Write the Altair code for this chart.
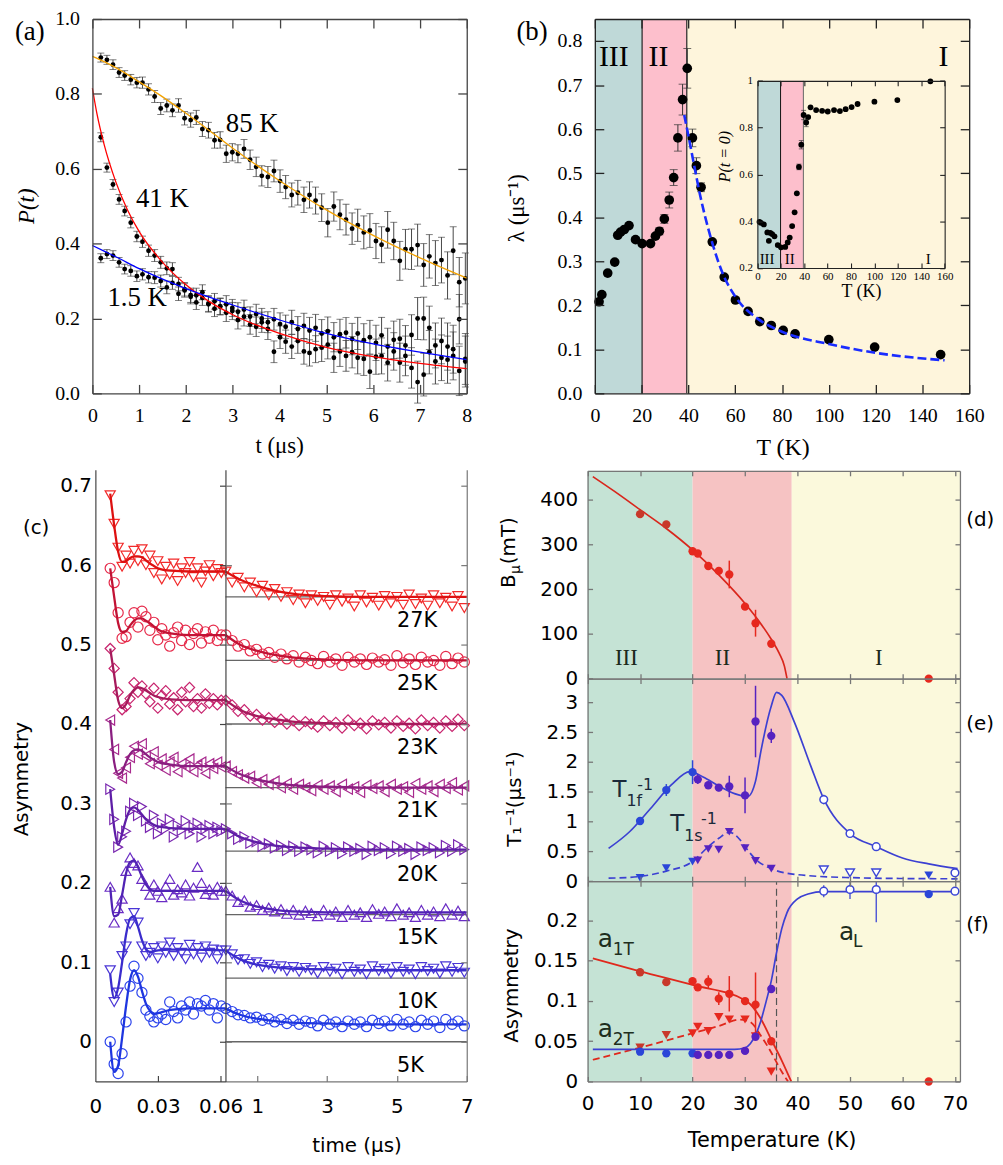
import altair as alt
import pandas as pd

W, H = 883, 1070
SERIF = "Liberation Serif"
SANS = "DejaVu Sans"

# ---------------- panel geometry (pixels inside the plotting area) ----------------
PA = dict(xd=[0, 8], yd=[0, 1.0], x0=0, x1=377, y0=0, y1=377)
PB = dict(xd=[0, 160], yd=[0, 0.85], x0=506, x1=883, y0=0, y1=377)
PI = dict(xd=[0, 160], yd=[0.2, 1.0], x0=669.7, x1=858.3, y0=62.3, y1=250.7)
PCL = dict(xd=[0, 0.0623], yd=[-0.05, 0.72], x0=3, x1=134, y0=454, y1=1070)
PCR = dict(xd=[0.09, 7], yd=[-0.05, 0.72], x0=134, x1=377, y0=454, y1=1070)
PD = dict(xd=[0, 70.95], yd=[0, 465], x0=498.7, x1=873.7, y0=455, y1=664.3)
PE = dict(xd=[0, 70.95], yd=[0, 3.4], x0=498.7, x1=873.7, y0=664.3, y1=868.3)
PF = dict(xd=[0, 70.95], yd=[0, 0.249], x0=498.7, x1=873.7, y0=868.3, y1=1070)

# ---------------- panel (a) data ----------------
A_T = [0.18, 0.31, 0.44, 0.57, 0.69, 0.82, 0.95, 1.07, 1.20, 1.33,
       1.46, 1.59, 1.71, 1.84, 1.97, 2.10, 2.22, 2.35, 2.48, 2.61,
       2.73, 2.86, 2.99, 3.11, 3.24, 3.37, 3.50, 3.62, 3.75, 3.88,
       4.01, 4.13, 4.26, 4.39, 4.52, 4.64, 4.77, 4.90, 5.03, 5.16,
       5.29, 5.42, 5.55, 5.67, 5.80, 5.93, 6.06, 6.18, 6.31, 6.44,
       6.57, 6.69, 6.82, 6.95, 7.08, 7.20, 7.33, 7.46, 7.59, 7.71,
       7.84, 7.97]
A_P85 = [0.897, 0.891, 0.878, 0.857, 0.849, 0.838, 0.830, 0.830, 0.812, 0.793,
         0.761, 0.769, 0.756, 0.769, 0.735, 0.730, 0.737, 0.706, 0.703, 0.676,
         0.677, 0.640, 0.644, 0.640, 0.653, 0.624, 0.605, 0.581, 0.578, 0.594,
         0.567, 0.551, 0.530, 0.536, 0.517, 0.530, 0.515, 0.496, 0.456, 0.499,
         0.477, 0.464, 0.440, 0.449, 0.430, 0.435, 0.407, 0.397, 0.437, 0.407,
         0.354, 0.385, 0.385, 0.396, 0.343, 0.366, 0.348, 0.356, 0.315, 0.381,
         0.297, 0.307]
A_P41 = [0.684, 0.603, 0.558, 0.518, 0.487, 0.456, 0.419, 0.405, 0.381, 0.368,
         0.350, 0.334, 0.332, 0.292, 0.278, 0.262, 0.243, 0.255, 0.238, 0.226,
         0.232, 0.215, 0.220, 0.196, 0.205, 0.184, 0.178, 0.190, 0.172, 0.111,
         0.150, 0.138, 0.125, 0.140, 0.112, 0.108, 0.118, 0.122, 0.130, 0.095,
         0.112, 0.100, 0.110, 0.095, 0.092, 0.058, 0.098, 0.100, 0.082, 0.112,
         0.082, 0.100, 0.068, 0.030, 0.050, 0.110, 0.085, 0.095, 0.090, 0.100,
         0.060, 0.085]
A_P15 = [0.361, 0.372, 0.368, 0.350, 0.332, 0.327, 0.313, 0.318, 0.310, 0.309,
         0.300, 0.283, 0.295, 0.266, 0.275, 0.258, 0.262, 0.270, 0.240, 0.246,
         0.232, 0.238, 0.228, 0.218, 0.224, 0.205, 0.212, 0.200, 0.190, 0.198,
         0.185, 0.178, 0.190, 0.172, 0.180, 0.168, 0.175, 0.160, 0.166, 0.150,
         0.158, 0.162, 0.145, 0.160, 0.142, 0.150, 0.135, 0.155, 0.125, 0.143,
         0.146, 0.128, 0.156, 0.200, 0.200, 0.175, 0.128, 0.140, 0.125, 0.118,
         0.198, 0.092]
A_ERR = [0.012, 0.012, 0.013, 0.013, 0.013, 0.014, 0.014, 0.015, 0.015, 0.016,
         0.016, 0.017, 0.017, 0.018, 0.018, 0.019, 0.019, 0.020, 0.021, 0.021,
         0.022, 0.023, 0.023, 0.024, 0.025, 0.026, 0.026, 0.027, 0.028, 0.029,
         0.030, 0.031, 0.032, 0.033, 0.034, 0.035, 0.036, 0.037, 0.038, 0.039,
         0.040, 0.041, 0.042, 0.043, 0.044, 0.045, 0.047, 0.048, 0.049, 0.050,
         0.052, 0.053, 0.054, 0.056, 0.057, 0.058, 0.060, 0.061, 0.063, 0.064,
         0.066, 0.068]
A_FIT_T = [0, 0.25, 0.5, 1, 1.5, 2, 2.5, 3, 4, 5, 6, 7, 8]
A_FIT85 = [0.900, 0.886, 0.870, 0.832, 0.792, 0.748, 0.702, 0.655, 0.568, 0.490, 0.422, 0.362, 0.308]
A_FIT15 = [0.395, 0.380, 0.365, 0.333, 0.305, 0.280, 0.257, 0.236, 0.196, 0.160, 0.132, 0.110, 0.090]
A_FIT41_T = [0, 0.1, 0.25, 0.5, 0.75, 1, 1.5, 2, 2.5, 3, 4, 5, 6, 7, 8]
A_FIT41 = [0.815, 0.745, 0.665, 0.565, 0.490, 0.432, 0.350, 0.290, 0.245, 0.210, 0.160, 0.123, 0.098, 0.080, 0.066]
A_LAB = ["85 K", "41 K", "1.5 K"]
A_LAB_T = [2.85, 0.93, 0.32]
A_LAB_P = [0.72, 0.52, 0.255]

# ---------------- panel (b) data ----------------
B_T = [1.8, 3.0, 5.5, 8.5, 9.8, 11.0, 12.6, 14.6, 17.4, 20.2, 23.8, 25.9, 27.6, 29.7, 31.8, 33.7, 35.5,
       37.5, 39.5, 41.7, 43.4, 45.4, 50.2, 55.3, 60.1, 65.5, 70.5, 75.4, 80.5, 85.6, 100.0, 119.6, 147.8]
B_LAM = [0.208, 0.224, 0.273, 0.298, 0.359, 0.366, 0.372, 0.381, 0.349, 0.340, 0.340, 0.357, 0.368, 0.396,
         0.439, 0.490, 0.580, 0.667, 0.738, 0.580, 0.517, 0.468, 0.344, 0.264, 0.212, 0.186, 0.163, 0.154,
         0.143, 0.135, 0.122, 0.105, 0.088]
B_ERR = [0.005, 0.005, 0.005, 0.005, 0.005, 0.005, 0.005, 0.005, 0.005, 0.005, 0.005, 0.005, 0.008, 0.010,
         0.018, 0.018, 0.030, 0.035, 0.045, 0.020, 0.018, 0.010, 0.005, 0.005, 0.005, 0.005, 0.005, 0.005,
         0.005, 0.005, 0.005, 0.005, 0.005]
B_FIT_T = [38.2, 40, 42, 45, 50, 55, 60, 70, 80, 100, 120, 149.5]
B_FIT = [0.632, 0.585, 0.530, 0.450, 0.345, 0.268, 0.220, 0.168, 0.140, 0.112, 0.092, 0.075]
B_P0 = [0.397, 0.393, 0.386, 0.352, 0.316, 0.350, 0.345, 0.335, 0.298, 0.288, 0.290, 0.309, 0.330, 0.379,
        0.438, 0.519, 0.632, 0.727, 0.854, 0.822, 0.845, 0.887, 0.875, 0.872, 0.869, 0.875, 0.871, 0.879,
        0.888, 0.901, 0.911, 0.918, 0.998]
B_P0_ERR = [0.004] * 16 + [0.012, 0.018, 0.020, 0.018] + [0.004] * 13
B_BAND_LO = [0, 20.2, 39.3]
B_BAND_HI = [20.2, 39.3, 160]
B_BAND_COL = ["#bfd9d8", "#fdbfcc", "#fef5dc"]
B_INSET_LO = [0, 19.8, 39.3]
B_INSET_HI = [19.8, 39.3, 160]
PHASES = ["III", "II", "I"]
B_PH_T = [8.1, 27.2, 149]
B_INSET_PH_T = [8.3, 27.7, 146]

# ---------------- panel (c) data ----------------
C_TEMPS = ["27K", "25K", "23K", "21K", "20K", "15K", "10K", "5K"]
C_SHAPES = ["triangle-down", "circle", "diamond", "triangle-left", "triangle-right",
            "triangle-up", "triangle-down", "circle"]
C_COL = ["#f22a2a", "#e62a4a", "#c8246e", "#a82a8e", "#7a28b0", "#6a2cc4", "#4a36d6", "#2c44ec"]
C_LCOL = ["#dd1111", "#c21335", "#a61a5c", "#8a1e80", "#5e1ea6", "#5022b4", "#3a2ccc", "#1e36e0"]
C_BASE = [0.56, 0.48, 0.40, 0.32, 0.24, 0.16, 0.08, 0.0]
C_LAB_Y = [0.53, 0.45, 0.37, 0.29, 0.21, 0.13, 0.05, -0.03]
C_LT = [0.0071, 0.0090, 0.0109, 0.0128, 0.0147, 0.0166, 0.0185, 0.0204, 0.0223, 0.0242, 0.0261, 0.0280,
        0.0299, 0.0318, 0.0337, 0.0356, 0.0375, 0.0394, 0.0413, 0.0432, 0.0451, 0.0470, 0.0489, 0.0508,
        0.0527, 0.0546, 0.0565, 0.0584, 0.0603]
C_RT = [0.10, 0.28, 0.45, 0.63, 0.80, 0.98, 1.15, 1.33, 1.50, 1.68, 1.85, 2.03, 2.20, 2.38, 2.55, 2.73,
        2.90, 3.08, 3.25, 3.43, 3.60, 3.78, 3.95, 4.13, 4.30, 4.48, 4.65, 4.83, 5.00, 5.18, 5.35, 5.53,
        5.70, 5.88, 6.05, 6.23, 6.40, 6.58, 6.75, 6.93]
C_LEFT = [
    [0.688, 0.652, 0.622, 0.598, 0.612, 0.602, 0.618, 0.605, 0.620, 0.600, 0.612, 0.590, 0.605, 0.582, 0.598,
     0.588, 0.602, 0.580, 0.596, 0.590, 0.604, 0.585, 0.596, 0.578, 0.592, 0.600, 0.586, 0.595, 0.590],
    [0.596, 0.578, 0.540, 0.508, 0.510, 0.528, 0.540, 0.522, 0.542, 0.535, 0.518, 0.528, 0.506, 0.520, 0.512,
     0.498, 0.515, 0.522, 0.505, 0.518, 0.500, 0.514, 0.520, 0.502, 0.516, 0.508, 0.518, 0.505, 0.512],
    [0.495, 0.470, 0.440, 0.418, 0.422, 0.432, 0.452, 0.440, 0.448, 0.438, 0.428, 0.445, 0.420, 0.436, 0.442,
     0.425, 0.433, 0.418, 0.440, 0.428, 0.446, 0.422, 0.432, 0.420, 0.438, 0.426, 0.432, 0.424, 0.430],
    [0.405, 0.368, 0.338, 0.332, 0.345, 0.358, 0.372, 0.362, 0.375, 0.360, 0.350, 0.365, 0.348, 0.356, 0.342,
     0.352, 0.358, 0.340, 0.350, 0.346, 0.356, 0.340, 0.348, 0.352, 0.338, 0.350, 0.344, 0.352, 0.346],
    [0.318, 0.280, 0.245, 0.258, 0.265, 0.290, 0.300, 0.285, 0.296, 0.278, 0.270, 0.285, 0.262, 0.275, 0.268,
     0.280, 0.258, 0.272, 0.266, 0.278, 0.262, 0.270, 0.275, 0.258, 0.268, 0.272, 0.262, 0.270, 0.265],
    [0.195, 0.150, 0.168, 0.180, 0.215, 0.232, 0.225, 0.222, 0.205, 0.196, 0.185, 0.198, 0.190, 0.182, 0.196,
     0.205, 0.185, 0.192, 0.188, 0.198, 0.184, 0.194, 0.220, 0.200, 0.186, 0.192, 0.185, 0.195, 0.190],
    [0.090, 0.050, 0.062, 0.108, 0.120, 0.148, 0.162, 0.150, 0.120, 0.108, 0.112, 0.118, 0.105, 0.120, 0.112,
     0.125, 0.108, 0.118, 0.112, 0.104, 0.122, 0.110, 0.118, 0.106, 0.120, 0.112, 0.116, 0.104, 0.115],
    [0.000, -0.028, -0.040, -0.015, 0.025, 0.070, 0.095, 0.080, 0.062, 0.040, 0.032, 0.025, 0.030, 0.035, 0.028,
     0.050, 0.038, 0.030, 0.045, 0.040, 0.050, 0.035, 0.048, 0.045, 0.052, 0.040, 0.048, 0.030, 0.045],
]
C_RIGHT = [
    [0.592, 0.578, 0.584, 0.572, 0.578, 0.566, 0.574, 0.562, 0.570, 0.560, 0.566, 0.556, 0.563, 0.552, 0.562,
     0.555, 0.560, 0.550, 0.562, 0.554, 0.558, 0.548, 0.562, 0.553, 0.559, 0.549, 0.561, 0.552, 0.560, 0.550,
     0.563, 0.551, 0.558, 0.549, 0.562, 0.552, 0.559, 0.548, 0.561, 0.546],
    [0.512, 0.505, 0.498, 0.500, 0.492, 0.494, 0.488, 0.490, 0.484, 0.488, 0.482, 0.486, 0.478, 0.484, 0.480,
     0.476, 0.485, 0.478, 0.482, 0.474, 0.484, 0.478, 0.482, 0.475, 0.483, 0.478, 0.481, 0.474, 0.486, 0.477,
     0.482, 0.475, 0.484, 0.478, 0.480, 0.474, 0.485, 0.476, 0.483, 0.478],
    [0.430, 0.424, 0.416, 0.418, 0.410, 0.412, 0.405, 0.408, 0.402, 0.406, 0.400, 0.404, 0.398, 0.403, 0.400,
     0.396, 0.404, 0.398, 0.402, 0.395, 0.405, 0.398, 0.401, 0.394, 0.404, 0.399, 0.402, 0.395, 0.404, 0.397,
     0.401, 0.394, 0.405, 0.398, 0.402, 0.395, 0.404, 0.397, 0.406, 0.398],
    [0.347, 0.340, 0.336, 0.332, 0.334, 0.326, 0.330, 0.324, 0.328, 0.320, 0.325, 0.318, 0.324, 0.320, 0.316,
     0.323, 0.318, 0.322, 0.315, 0.324, 0.318, 0.321, 0.314, 0.323, 0.319, 0.322, 0.315, 0.324, 0.318, 0.321,
     0.314, 0.325, 0.318, 0.322, 0.315, 0.324, 0.319, 0.326, 0.317, 0.322],
    [0.268, 0.262, 0.255, 0.258, 0.250, 0.252, 0.246, 0.249, 0.244, 0.247, 0.241, 0.246, 0.240, 0.245, 0.242,
     0.238, 0.246, 0.240, 0.244, 0.237, 0.245, 0.240, 0.243, 0.236, 0.246, 0.241, 0.244, 0.237, 0.246, 0.240,
     0.243, 0.236, 0.245, 0.241, 0.244, 0.238, 0.247, 0.240, 0.248, 0.242],
    [0.190, 0.184, 0.176, 0.178, 0.170, 0.172, 0.166, 0.169, 0.164, 0.167, 0.161, 0.166, 0.160, 0.165, 0.162,
     0.158, 0.166, 0.160, 0.164, 0.157, 0.166, 0.160, 0.163, 0.157, 0.167, 0.161, 0.164, 0.158, 0.168, 0.160,
     0.163, 0.157, 0.166, 0.160, 0.164, 0.158, 0.168, 0.160, 0.165, 0.158],
    [0.115, 0.110, 0.103, 0.104, 0.098, 0.100, 0.094, 0.097, 0.092, 0.095, 0.089, 0.094, 0.088, 0.093, 0.090,
     0.086, 0.094, 0.088, 0.092, 0.085, 0.094, 0.088, 0.091, 0.085, 0.095, 0.089, 0.092, 0.086, 0.094, 0.088,
     0.091, 0.085, 0.094, 0.089, 0.092, 0.086, 0.095, 0.088, 0.093, 0.087],
    [0.042, 0.038, 0.034, 0.033, 0.030, 0.031, 0.027, 0.029, 0.025, 0.028, 0.023, 0.027, 0.022, 0.026, 0.024,
     0.020, 0.027, 0.022, 0.025, 0.019, 0.026, 0.022, 0.025, 0.019, 0.027, 0.023, 0.026, 0.020, 0.028, 0.022,
     0.025, 0.019, 0.027, 0.022, 0.026, 0.018, 0.028, 0.022, 0.026, 0.020],
]
C_FLT = [0.0071, 0.0090, 0.0109, 0.0128, 0.0147, 0.0166, 0.0185, 0.0204, 0.0223, 0.0242, 0.0261, 0.0280,
         0.0300, 0.0360, 0.0450, 0.0623]
C_FIT_LEFT = [
    [0.690, 0.650, 0.617, 0.604, 0.605, 0.609, 0.611, 0.611, 0.610, 0.606, 0.602, 0.599, 0.596, 0.593, 0.592, 0.592],
    [0.596, 0.560, 0.527, 0.516, 0.517, 0.524, 0.530, 0.533, 0.533, 0.530, 0.527, 0.523, 0.519, 0.514, 0.512, 0.512],
    [0.495, 0.462, 0.430, 0.420, 0.425, 0.436, 0.443, 0.446, 0.445, 0.442, 0.439, 0.436, 0.434, 0.431, 0.430, 0.430],
    [0.405, 0.352, 0.337, 0.340, 0.352, 0.362, 0.367, 0.368, 0.366, 0.362, 0.358, 0.355, 0.352, 0.349, 0.347, 0.347],
    [0.318, 0.270, 0.248, 0.262, 0.280, 0.292, 0.295, 0.292, 0.286, 0.280, 0.276, 0.273, 0.271, 0.269, 0.268, 0.268],
    [0.195, 0.158, 0.160, 0.185, 0.212, 0.226, 0.228, 0.220, 0.208, 0.198, 0.192, 0.190, 0.190, 0.190, 0.190, 0.190],
    [0.085, 0.055, 0.068, 0.100, 0.135, 0.155, 0.158, 0.145, 0.128, 0.117, 0.113, 0.114, 0.115, 0.116, 0.116, 0.115],
    [0.000, -0.038, -0.030, 0.005, 0.045, 0.078, 0.090, 0.082, 0.064, 0.048, 0.039, 0.035, 0.036, 0.040, 0.042, 0.042],
]
C_FRT = [0.09, 0.5, 1, 1.5, 2, 3, 4, 5, 7]
C_FIT_RIGHT = [
    [0.592, 0.582, 0.574, 0.568, 0.564, 0.561, 0.560, 0.560, 0.560],
    [0.512, 0.500, 0.492, 0.487, 0.484, 0.481, 0.480, 0.480, 0.480],
    [0.430, 0.418, 0.410, 0.406, 0.403, 0.401, 0.400, 0.400, 0.400],
    [0.347, 0.337, 0.330, 0.326, 0.323, 0.321, 0.320, 0.320, 0.320],
    [0.268, 0.258, 0.251, 0.247, 0.245, 0.243, 0.242, 0.242, 0.242],
    [0.190, 0.178, 0.170, 0.166, 0.164, 0.163, 0.163, 0.163, 0.163],
    [0.115, 0.104, 0.097, 0.094, 0.092, 0.091, 0.090, 0.090, 0.090],
    [0.042, 0.034, 0.029, 0.026, 0.024, 0.023, 0.022, 0.022, 0.022],
]

# ---------------- panels (d) (e) (f) data ----------------
RED, DRED, BLUE, PURP = "#e6281e", "#c8382a", "#2a46d8", "#5622c0"
DEF_BAND_LO = [0, 20, 38.9]
DEF_BAND_HI = [20, 38.9, 70.95]
DEF_BAND_COL = ["#c5e3d5", "#f6c3c3", "#fbf9dc"]
D_PH_T = [7.4, 25.7, 55.5]
D_PH_Y = 47

D_T = [10, 15, 20, 21, 23, 25, 27, 30, 32, 35, 65]
D_B = [368, 345, 285, 280, 252, 241, 233, 161, 124, 78, 0]
D_ERR = [0, 0, 0, 0, 0, 0, 31, 0, 30, 0, 0]
D_COLS = [DRED, DRED, RED, RED, RED, RED, RED, RED, RED, RED, RED]
D_FIT_T = [1, 5, 10, 15, 20, 25, 30, 33, 35, 36.5, 37.5, 38.0]
D_FIT = [452, 420, 378, 336, 288, 232, 168, 123, 88, 57, 28, 0]

E_T = [10, 15, 20, 21, 23, 25, 27, 30, 32, 35]
E_F = [1.01, 1.53, 1.83, 1.71, 1.61, 1.57, 1.59, 1.44, 2.68, 2.44]
E_F_ERR = [0.03, 0.10, 0.20, 0.08, 0.06, 0.06, 0.18, 0.30, 0.60, 0.12]
E_COLS = [BLUE, BLUE, BLUE, PURP, PURP, PURP, PURP, PURP, PURP, PURP]
E_OPEN_T = [45, 50, 55, 70]
E_OPEN_F = [1.37, 0.80, 0.58, 0.14]
E_OPEN_ERR = [0.08, 0.05, 0.05, 0.02]
E_S_T = [10, 15, 20, 21, 23, 25, 27, 30, 32, 35, 65]
E_S = [0.055, 0.22, 0.33, 0.35, 0.54, 0.53, 0.83, 0.555, 0.34, 0.21, 0.10]
E_S_COLS = [BLUE, BLUE, BLUE, PURP, PURP, PURP, PURP, PURP, PURP, PURP, BLUE]
E_SOPEN_T = [45, 50, 55]
E_SOPEN = [0.19, 0.14, 0.14]
E_FIT_F_T = [4, 8, 12, 16, 19.5, 22, 25, 28, 30.5, 32, 33, 35, 36, 37, 39.4, 42.5, 45, 50, 55, 60, 65, 70.5]
E_FIT_F = [0.55, 0.83, 1.22, 1.62, 1.84, 1.75, 1.60, 1.47, 1.42, 1.68, 2.17, 2.94, 3.17, 3.12, 2.67, 1.94,
           1.38, 0.80, 0.58, 0.39, 0.29, 0.21]
E_FIT_S_T = [4, 10, 15, 20, 23, 25, 27, 29, 30, 32, 35, 40, 50, 60, 70.5]
E_FIT_S = [0.05, 0.08, 0.17, 0.33, 0.58, 0.72, 0.82, 0.70, 0.58, 0.37, 0.21, 0.11, 0.06, 0.045, 0.04]

F_T = [10, 15, 20, 21, 23, 25, 27, 30, 32, 35]
F_A1 = [0.1358, 0.1235, 0.1247, 0.117, 0.124, 0.103, 0.109, 0.100, 0.0955, 0.050]
F_A1_ERR = [0, 0, 0, 0, 0.008, 0.008, 0.022, 0, 0.04, 0]
F_A2 = [0.042, 0.0576, 0.0597, 0.068, 0.0626, 0.080, 0.077, 0.077, 0.056, 0.0123]
F_AL = [0.037, 0.035, 0.035, 0.033, 0.033, 0.033, 0.033, 0.038, 0.0556, 0.115]
F_COLS_R = [DRED, DRED, RED, RED, RED, RED, RED, RED, RED, RED]
F_COLS_B = [BLUE, BLUE, BLUE, PURP, PURP, PURP, PURP, PURP, PURP, PURP]
F_OPEN_T = [45, 50, 55, 70]
F_OPEN = [0.2366, 0.2387, 0.2387, 0.2366]
F_OPEN_LO = [0.229, 0.227, 0.198, 0.2366]
F_OPEN_HI = [0.244, 0.249, 0.249, 0.2366]
F_EXTRA_T = [65, 65]
F_EXTRA = [0.0, 0.233]
F_EXTRA_COL = [RED, BLUE]
F_FIT1_T = [1, 10, 20, 30, 31, 33, 35, 37, 38.8]
F_FIT1 = [0.153, 0.137, 0.120, 0.101, 0.096, 0.078, 0.052, 0.026, 0.0]
F_FIT2_T = [1, 10, 20, 25, 29, 31, 33, 35, 37, 38.2]
F_FIT2 = [0.027, 0.042, 0.060, 0.069, 0.077, 0.074, 0.057, 0.036, 0.012, 0.0]
F_FITL_T = [1, 28, 30, 31, 32, 33, 34, 35, 36, 37, 38, 40, 42, 45, 70.5]
F_FITL = [0.040, 0.040, 0.042, 0.047, 0.058, 0.075, 0.099, 0.125, 0.160, 0.190, 0.210, 0.227, 0.233, 0.236, 0.236]
F_TC = 36.0

# ---------------- helpers ----------------
DUMMY = pd.DataFrame({"v": [0.0]})


def xs(P):
    return alt.Scale(domain=P["xd"], range=[P["x0"], P["x1"]], nice=False, zero=False)


def ys(P):
    return alt.Scale(domain=P["yd"], range=[P["y1"], P["y0"]], nice=False, zero=False)


def XE(P, f):
    return alt.X(f + ":Q", scale=xs(P), axis=None)


def YE(P, f):
    return alt.Y(f + ":Q", scale=ys(P), axis=None)


def tick_axes(P, xv, yv, size, color, sides, doms, width=1.0):
    out = []
    spec = {"b": ("x", "top", -P["y1"]), "t": ("x", "bottom", P["y0"] - H),
            "l": ("y", "right", P["x0"] - W), "r": ("y", "left", -P["x1"])}
    for s in "btlr":
        if s not in sides and s not in doms:
            continue
        ch, orient, off = spec[s]
        ax = alt.Axis(orient=orient, offset=off, values=(xv if ch == "x" else yv), labels=False,
                      ticks=(s in sides), tickSize=size, tickColor=color, tickWidth=width,
                      domain=(s in doms), domainColor=color, domainWidth=width, grid=False,
                      title=None, zindex=3)
        base = alt.Chart(DUMMY).mark_point(opacity=0)
        if ch == "x":
            out.append(base.encode(x=alt.X("v:Q", scale=xs(P), axis=ax)))
        else:
            out.append(base.encode(y=alt.Y("v:Q", scale=ys(P), axis=ax)))
    return out


def label_axis(P, ch, values, fmt, font, size, pad, title=None, **kw):
    common = dict(values=values, format=fmt, labels=True, ticks=False, domain=False, grid=False,
                  labelFont=font, labelFontSize=size, labelColor="black", labelPadding=pad,
                  labelFlush=False, labelOverlap=False, zindex=3, title=title)
    if title is not None:
        common.update(titleFont=font, titleColor="black", titleFontWeight="normal",
                      titleAlign="center", titleBaseline="middle")
    common.update(kw)
    base = alt.Chart(DUMMY).mark_point(opacity=0)
    if ch == "x":
        ax = alt.Axis(orient="bottom", offset=P["y1"] - H, **common)
        return base.encode(x=alt.X("v:Q", scale=xs(P), axis=ax))
    ax = alt.Axis(orient="left", offset=-P["x0"], **common)
    return base.encode(y=alt.Y("v:Q", scale=ys(P), axis=ax))


def ptext(txt, x, y, font, size, align="left", style="normal", angle=0, dx=0, dy=0, color="black"):
    mk = dict(text=txt, font=font, fontSize=size, align=align, baseline="middle", fontStyle=style,
              color=color, dx=dx, dy=dy)
    if angle:
        mk["angle"] = angle
    return alt.Chart(DUMMY).mark_text(**mk).encode(x=alt.value(x), y=alt.value(y))


def dtext(P, txt, x, y, font, size, align="left", baseline="middle", dx=0, dy=0, color="black", style="normal"):
    df = pd.DataFrame({"x": [x], "y": [y]})
    return alt.Chart(df).mark_text(text=txt, font=font, fontSize=size, align=align, baseline=baseline,
                                   dx=dx, dy=dy, color=color, fontStyle=style).encode(
        x=XE(P, "x"), y=YE(P, "y"))


def bands(P, lo, hi, cols):
    df = pd.DataFrame({"a": lo, "b": hi, "c": cols, "y1": [P["yd"][0]] * len(lo), "y2": [P["yd"][1]] * len(lo)})
    return alt.Chart(df).mark_rect().encode(x=XE(P, "a"), x2="b:Q", y=YE(P, "y1"), y2="y2:Q",
                                            color=alt.Color("c:N", scale=None))


def vrules(P, xvals, color, width=1.2, dash=None):
    df = pd.DataFrame({"x": xvals, "y1": [P["yd"][0]] * len(xvals), "y2": [P["yd"][1]] * len(xvals)})
    kw = dict(color=color, strokeWidth=width)
    if dash:
        kw["strokeDash"] = dash
    return alt.Chart(df).mark_rule(**kw).encode(x=XE(P, "x"), y=YE(P, "y1"), y2="y2:Q")


def errbars(P, df, xf, lof, hif, color, width=1.0, cap=0):
    out = [alt.Chart(df).mark_rule(color=color, strokeWidth=width).encode(x=XE(P, xf), y=YE(P, lof), y2=hif + ":Q")]
    if cap:
        for f in (lof, hif):
            out.append(alt.Chart(df).mark_tick(orient="horizontal", size=cap, thickness=width, color=color)
                       .encode(x=XE(P, xf), y=YE(P, f)))
    return out


def fitline(P, xs_, ys_, color, width, dash=None):
    df = pd.DataFrame({"x": xs_, "y": ys_})
    kw = dict(color=color, strokeWidth=width, interpolate="monotone")
    if dash:
        kw["strokeDash"] = dash
    return alt.Chart(df).mark_line(**kw).encode(x=XE(P, "x"), y=YE(P, "y"))


layers = []

# ======================= panel (a) =======================
rows = []
for name, vals in (("85 K", A_P85), ("41 K", A_P41), ("1.5 K", A_P15)):
    for t, p, e in zip(A_T, vals, A_ERR):
        rows.append({"t": t, "p": p, "lo": p - e, "hi": p + e, "s": name})
dfa = pd.DataFrame(rows)
layers += errbars(PA, dfa, "t", "lo", "hi", "#333333", 0.9, cap=7)
layers.append(alt.Chart(dfa).mark_circle(size=24, color="black", opacity=1).encode(x=XE(PA, "t"), y=YE(PA, "p")))
layers.append(fitline(PA, A_FIT_T, A_FIT85, "#f2a100", 1.3))
layers.append(fitline(PA, A_FIT41_T, A_FIT41, "#ff0000", 1.3))
layers.append(fitline(PA, A_FIT_T, A_FIT15, "#0000ff", 1.3))
for lab, t, p in zip(A_LAB, A_LAB_T, A_LAB_P):
    layers.append(dtext(PA, lab, t, p, SERIF, 27))
layers += tick_axes(PA, list(range(0, 9)), [0, 0.2, 0.4, 0.6, 0.8, 1.0], 9, "#444444", "btlr", "btlr", 1.3)
layers.append(label_axis(PA, "x", list(range(0, 9)), "d", SERIF, 20, 12, title="t (μs)",
                         titleFontSize=23, titleX=188, titleY=53))
layers.append(label_axis(PA, "y", [0, 0.2, 0.4, 0.6, 0.8, 1.0], ".1f", SERIF, 20, 13, title="P(t)",
                         titleFontSize=23, titleX=-66, titleY=188, titleFontStyle="italic", titleAngle=270))
layers.append(ptext("(a)", -78, 13, SERIF, 27))

# ======================= panel (b) =======================
layers.append(bands(PB, B_BAND_LO, B_BAND_HI, B_BAND_COL))
layers.append(vrules(PB, [20.2, 39.3], "#222222", 1.2))
dfb = pd.DataFrame({"t": B_T, "l": B_LAM, "lo": [a - b for a, b in zip(B_LAM, B_ERR)],
                    "hi": [a + b for a, b in zip(B_LAM, B_ERR)]})
layers += errbars(PB, dfb, "t", "lo", "hi", "#333333", 1.0, cap=8)
layers.append(alt.Chart(dfb).mark_circle(size=95, color="black", opacity=1).encode(x=XE(PB, "t"), y=YE(PB, "l")))
layers.append(fitline(PB, B_FIT_T, B_FIT, "#1a2cff", 2.6, dash=[9, 4]))
for ph, t in zip(PHASES, B_PH_T):
    layers.append(dtext(PB, ph, t, 0.763, SERIF, 30, align="center"))
# inset
layers.append(bands(PI, B_INSET_LO, B_INSET_HI, B_BAND_COL))
layers.append(vrules(PI, [19.8], "#111111", 1.0))
layers.append(vrules(PI, [39.3], "#666666", 1.0))
dfi = pd.DataFrame({"t": B_T, "p": B_P0, "lo": [a - b for a, b in zip(B_P0, B_P0_ERR)],
                    "hi": [a + b for a, b in zip(B_P0, B_P0_ERR)]})
layers += errbars(PI, dfi, "t", "lo", "hi", "#333333", 0.9, cap=5)
layers.append(alt.Chart(dfi).mark_circle(size=34, color="black", opacity=1).encode(x=XE(PI, "t"), y=YE(PI, "p")))
for ph, t in zip(PHASES, B_INSET_PH_T):
    layers.append(dtext(PI, ph, t, 0.237, SERIF, 15, align="center"))
layers += tick_axes(PB, list(range(0, 161, 20)), [0, 0.1, 0.2, 0.3, 0.4, 0.5, 0.6, 0.7, 0.8], 9, "#222222",
                    "btlr", "btlr", 1.3)
layers.append(label_axis(PB, "x", list(range(0, 161, 20)), "d", SERIF, 20, 12, title="T (K)",
                         titleFontSize=24, titleX=695, titleY=55))
layers.append(label_axis(PB, "y", [0, 0.1, 0.2, 0.3, 0.4, 0.5, 0.6, 0.7, 0.8], ".1f", SERIF, 20, 13,
                         title="λ (μs⁻¹)", titleFontSize=23, titleX=-79, titleY=190, titleAngle=270))
layers += tick_axes(PI, list(range(0, 161, 20)), [0.2, 0.4, 0.6, 0.8, 1.0], 5, "#222222", "btlr", "btlr", 1.1)
layers.append(label_axis(PI, "x", list(range(0, 161, 20)), "d", SERIF, 11, 3, title="T (K)",
                         titleFontSize=18, titleX=774, titleY=24))
layers.append(label_axis(PI, "y", [0.2, 0.4, 0.6, 0.8, 1.0], "~g", SERIF, 11, 5, title="P(t = 0)",
                         titleFontSize=16, titleX=-33, titleY=138, titleFontStyle="italic", titleAngle=270))
layers.append(ptext("(b)", 427, 13, SERIF, 27))

# ======================= panel (c) =======================
left_rows, right_rows, fl_rows, fr_rows = [], [], [], []
for i, tmp in enumerate(C_TEMPS):
    for t, a in zip(C_LT, C_LEFT[i]):
        left_rows.append({"t": t, "a": a, "temp": tmp, "col": C_COL[i], "shape": C_SHAPES[i]})
    for t, a in zip(C_RT, C_RIGHT[i]):
        right_rows.append({"t": t, "a": a, "temp": tmp, "col": C_COL[i], "shape": C_SHAPES[i]})
    for t, a in zip(C_FLT, C_FIT_LEFT[i]):
        fl_rows.append({"t": t, "a": a, "temp": tmp, "col": C_LCOL[i]})
    for t, a in zip(C_FRT, C_FIT_RIGHT[i]):
        fr_rows.append({"t": t, "a": a, "temp": tmp, "col": C_LCOL[i]})
dfcl, dfcr = pd.DataFrame(left_rows), pd.DataFrame(right_rows)
dffl, dffr = pd.DataFrame(fl_rows), pd.DataFrame(fr_rows)
dfbase = pd.DataFrame({"a": [PCR["xd"][0]] * 8, "b": [PCR["xd"][1]] * 8, "y": C_BASE})
layers.append(alt.Chart(dfbase).mark_rule(color="#666666", strokeWidth=1.3).encode(
    x=XE(PCR, "a"), x2="b:Q", y=YE(PCR, "y")))
for P, df in ((PCL, dfcl), (PCR, dfcr)):
    layers.append(alt.Chart(df).mark_point(filled=False, size=105, strokeWidth=1.2, opacity=1).encode(
        x=XE(P, "t"), y=YE(P, "a"), color=alt.Color("col:N", scale=None),
        shape=alt.Shape("shape:N", scale=None)))
for P, df in ((PCL, dffl), (PCR, dffr)):
    layers.append(alt.Chart(df).mark_line(strokeWidth=2.3, interpolate="monotone").encode(
        x=XE(P, "t"), y=YE(P, "a"), color=alt.Color("col:N", scale=None), detail="temp:N"))
dfclab = pd.DataFrame({"x": [5.0] * 8, "y": C_LAB_Y, "lab": C_TEMPS})
layers.append(alt.Chart(dfclab).mark_text(font=SANS, fontSize=21, align="left", baseline="middle",
                                          color="black").encode(x=XE(PCR, "x"), y=YE(PCR, "y"), text="lab:N"))
CY = [0, 0.1, 0.2, 0.3, 0.4, 0.5, 0.6, 0.7]
layers += tick_axes(PCL, [0.03, 0.06], CY, 6, "#444444", "br", "blr", 1.2)
layers += tick_axes(PCR, [1, 3, 5, 7], CY, 6, "#777777", "blr", "br", 1.2)
layers.append(label_axis(PCL, "x", [0, 0.03, 0.06], "~g", SANS, 20, 15))
layers.append(label_axis(PCL, "y", CY, "~g", SANS, 20, 4, title="Asymmetry", titleFontSize=20,
                         titleX=-74, titleY=765, titleAngle=270))
layers.append(label_axis(PCR, "x", [1, 3, 5, 7], "d", SANS, 20, 15, title="time (μs)", titleFontSize=20,
                         titleX=266, titleY=65))
layers.append(ptext("(c)", -70, 513, SANS, 20))

# ======================= panels (d) (e) (f) =======================
for P in (PD, PE, PF):
    layers.append(bands(P, DEF_BAND_LO, DEF_BAND_HI, DEF_BAND_COL))
# (d)
for ph, t in zip(PHASES, D_PH_T):
    layers.append(dtext(PD, ph, t, D_PH_Y, SERIF, 23, align="center", color="#1b2a1b"))
layers.append(fitline(PD, D_FIT_T, D_FIT, "#d9261c", 1.7))
dfd = pd.DataFrame({"t": D_T, "b": D_B, "lo": [a - e for a, e in zip(D_B, D_ERR)],
                    "hi": [a + e for a, e in zip(D_B, D_ERR)], "c": D_COLS})
layers.append(alt.Chart(dfd).mark_rule(strokeWidth=1.5).encode(x=XE(PD, "t"), y=YE(PD, "lo"), y2="hi:Q",
                                                                color=alt.Color("c:N", scale=None)))
layers.append(alt.Chart(dfd).mark_circle(size=70, opacity=1).encode(x=XE(PD, "t"), y=YE(PD, "b"),
                                                                     color=alt.Color("c:N", scale=None)))
# (e)
layers.append(fitline(PE, E_FIT_F_T, E_FIT_F, "#3c40d2", 1.7))
layers.append(fitline(PE, E_FIT_S_T, E_FIT_S, "#3c40d2", 1.7, dash=[7, 4]))
dfe = pd.DataFrame({"t": E_T, "v": E_F, "lo": [a - e for a, e in zip(E_F, E_F_ERR)],
                    "hi": [a + e for a, e in zip(E_F, E_F_ERR)], "c": E_COLS})
layers.append(alt.Chart(dfe).mark_rule(strokeWidth=1.5).encode(x=XE(PE, "t"), y=YE(PE, "lo"), y2="hi:Q",
                                                                color=alt.Color("c:N", scale=None)))
layers.append(alt.Chart(dfe).mark_circle(size=70, opacity=1).encode(x=XE(PE, "t"), y=YE(PE, "v"),
                                                                     color=alt.Color("c:N", scale=None)))
dfeo = pd.DataFrame({"t": E_OPEN_T, "v": E_OPEN_F, "lo": [a - e for a, e in zip(E_OPEN_F, E_OPEN_ERR)],
                     "hi": [a + e for a, e in zip(E_OPEN_F, E_OPEN_ERR)]})
layers += errbars(PE, dfeo, "t", "lo", "hi", "#3c46d6", 1.3)
layers.append(alt.Chart(dfeo).mark_point(shape="circle", filled=True, fill="white", stroke="#3c46d6",
                                         strokeWidth=1.5, size=60, opacity=1).encode(x=XE(PE, "t"), y=YE(PE, "v")))
dfes = pd.DataFrame({"t": E_S_T, "v": E_S, "c": E_S_COLS})
layers.append(alt.Chart(dfes).mark_point(shape="triangle-down", filled=True, size=80, opacity=1).encode(
    x=XE(PE, "t"), y=YE(PE, "v"), color=alt.Color("c:N", scale=None)))
dfeso = pd.DataFrame({"t": E_SOPEN_T, "v": E_SOPEN})
layers.append(alt.Chart(dfeso).mark_point(shape="triangle-down", filled=True, fill="white", stroke="#3c46d6",
                                          strokeWidth=1.4, size=80, opacity=1).encode(x=XE(PE, "t"), y=YE(PE, "v")))
# labels T1f^-1 and T1s^-1
layers.append(dtext(PE, "T", 4.75, 1.42, SANS, 23, baseline="alphabetic", color="#1b2a3a"))
layers.append(dtext(PE, "1f", 4.75, 1.42, SANS, 16, baseline="alphabetic", dx=14, dy=9, color="#1b2a3a"))
layers.append(dtext(PE, "-1", 4.75, 1.42, SANS, 16, baseline="alphabetic", dx=25, dy=-7, color="#1b2a3a"))
layers.append(dtext(PE, "T", 15.76, 0.84, SANS, 23, baseline="alphabetic", color="#1b2a3a"))
layers.append(dtext(PE, "1s", 15.76, 0.84, SANS, 16, baseline="alphabetic", dx=14, dy=10, color="#1b2a3a"))
layers.append(dtext(PE, "-1", 15.76, 0.84, SANS, 16, baseline="alphabetic", dx=31, dy=-7, color="#1b2a3a"))
# (f)
layers.append(vrules(PF, [F_TC], "#555555", 1.2, dash=[7, 4]))
layers.append(fitline(PF, F_FIT1_T, F_FIT1, "#e0281c", 1.8))
layers.append(fitline(PF, F_FIT2_T, F_FIT2, "#e0281c", 1.8, dash=[7, 4]))
layers.append(fitline(PF, F_FITL_T, F_FITL, "#3c40d2", 1.7))
dff = pd.DataFrame({"t": F_T, "a1": F_A1, "lo": [a - e for a, e in zip(F_A1, F_A1_ERR)],
                    "hi": [a + e for a, e in zip(F_A1, F_A1_ERR)], "a2": F_A2, "al": F_AL,
                    "cr": F_COLS_R, "cb": F_COLS_B})
layers.append(alt.Chart(dff).mark_rule(strokeWidth=1.5).encode(x=XE(PF, "t"), y=YE(PF, "lo"), y2="hi:Q",
                                                                color=alt.Color("cr:N", scale=None)))
layers.append(alt.Chart(dff).mark_circle(size=70, opacity=1).encode(x=XE(PF, "t"), y=YE(PF, "a1"),
                                                                     color=alt.Color("cr:N", scale=None)))
layers.append(alt.Chart(dff).mark_point(shape="triangle-down", filled=True, size=90, opacity=1).encode(
    x=XE(PF, "t"), y=YE(PF, "a2"), color=alt.Color("cr:N", scale=None)))
layers.append(alt.Chart(dff).mark_circle(size=70, opacity=1).encode(x=XE(PF, "t"), y=YE(PF, "al"),
                                                                     color=alt.Color("cb:N", scale=None)))
dffo = pd.DataFrame({"t": F_OPEN_T, "v": F_OPEN, "lo": F_OPEN_LO, "hi": F_OPEN_HI})
layers += errbars(PF, dffo, "t", "lo", "hi", "#3c46d6", 1.3)
layers.append(alt.Chart(dffo).mark_point(shape="circle", filled=True, fill="white", stroke="#3c46d6",
                                         strokeWidth=1.5, size=60, opacity=1).encode(x=XE(PF, "t"), y=YE(PF, "v")))
dfx = pd.DataFrame({"t": F_EXTRA_T, "v": F_EXTRA, "c": F_EXTRA_COL})
layers.append(alt.Chart(dfx).mark_circle(size=70, opacity=1).encode(x=XE(PF, "t"), y=YE(PF, "v"),
                                                                     color=alt.Color("c:N", scale=None)))
for txt, sub, t, v, sdx in (("a", "1T", 1.95, 0.1667, 15), ("a", "2T", 1.95, 0.0556, 15), ("a", "L", 47.9, 0.1765, 14)):
    layers.append(dtext(PF, txt, t, v, SANS, 25, baseline="alphabetic", color="#1e2e1e"))
    layers.append(dtext(PF, sub, t, v, SANS, 17, baseline="alphabetic", dx=sdx, dy=8, color="#1e2e1e"))

DX = list(range(0, 71, 10))
for P, yv in ((PD, [0, 100, 200, 300, 400]), (PE, [0, 0.5, 1, 1.5, 2, 2.5, 3]), (PF, [0, 0.05, 0.1, 0.15, 0.2])):
    layers += tick_axes(P, DX, yv, 5, "#777777", "btlr", "btlr", 1.3)
layers.append(label_axis(PD, "y", [0, 100, 200, 300, 400], "d", SANS, 20, 10))
layers.append(label_axis(PE, "y", [0, 0.5, 1, 1.5, 2, 2.5, 3], "~g", SANS, 20, 10, title="T₁⁻¹(μs⁻¹)",
                         titleFontSize=20, titleX=-74, titleY=785, titleAngle=270))
layers.append(label_axis(PF, "y", [0, 0.05, 0.1, 0.15, 0.2], "~g", SANS, 20, 10, title="Asymmetry",
                         titleFontSize=20, titleX=-77, titleY=973, titleAngle=270))
layers.append(label_axis(PF, "x", DX, "d", SANS, 20, 12, title="Temperature (K)", titleFontSize=21,
                         titleX=684, titleY=59))
# B_mu (mT) title built from pieces
layers.append(ptext("B", 420, 573, SANS, 20, angle=270))
layers.append(ptext("μ", 420, 573, SANS, 14, angle=270, dx=14, dy=7))
layers.append(ptext("(mT)", 420, 573, SANS, 20, angle=270, dx=24))
layers.append(ptext("(d)", 880, 505, SANS, 20))
layers.append(ptext("(e)", 880, 710, SANS, 20))
layers.append(ptext("(f)", 880, 912, SANS, 20))

chart = alt.layer(*layers).resolve_scale(x="independent", y="independent").properties(
    width=W, height=H, autosize=alt.AutoSizeParams(type="none"),
    padding={"left": 85, "top": 7, "right": 26, "bottom": 75},
).configure_view(strokeOpacity=0)

chart.save("out.html", embed_options={"renderer": "svg", "actions": False})
